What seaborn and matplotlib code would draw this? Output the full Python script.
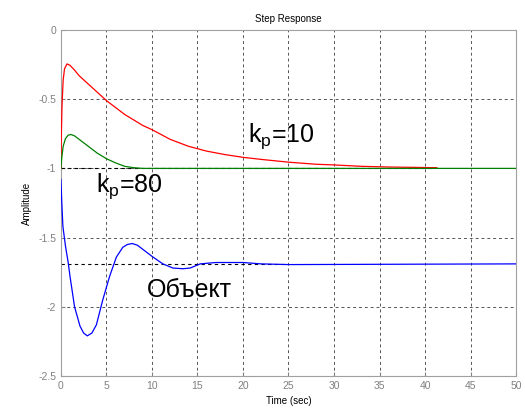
import matplotlib
matplotlib.use("Agg")
import matplotlib.pyplot as plt
import seaborn as sns

# values
t_red = [0, 0.05, 0.12, 0.25, 0.4, 0.67, 1.0, 1.5, 2, 3, 4, 5, 6, 7, 8, 9, 10,
         12, 14, 16, 18, 20, 22, 25, 28, 30, 33, 36, 41.3]
y_red = [-1.0, -0.75, -0.55, -0.36, -0.28, -0.245, -0.255, -0.29, -0.33, -0.39,
         -0.45, -0.51, -0.56, -0.61, -0.65, -0.69, -0.72, -0.79, -0.84, -0.875,
         -0.90, -0.92, -0.935, -0.955, -0.97, -0.975, -0.985, -0.99, -0.995]

t_green = [0, 0.1, 0.25, 0.5, 0.8, 1.1, 1.5, 2, 2.5, 3, 3.5, 4, 5, 6, 7, 8, 9, 50]
y_green = [-1.0, -0.92, -0.84, -0.785, -0.76, -0.755, -0.765, -0.79, -0.815,
           -0.84, -0.865, -0.89, -0.93, -0.96, -0.985, -0.995, -1.0, -1.0]

t_blue = [0, 0.1, 0.22, 0.5, 0.8, 1.0, 1.5, 2.1, 2.5, 2.9, 3.4, 3.9, 4.6, 5.35,
          6.1, 6.8, 7.3, 7.84, 8.4, 9.0, 10.1, 11.2, 12.3, 13.4, 14.2, 15.3,
          17, 20, 22, 25, 50]
y_blue = [-1.08, -1.25, -1.42, -1.56, -1.68, -1.78, -2.0, -2.14, -2.19, -2.21,
          -2.19, -2.13, -1.95, -1.78, -1.64, -1.57, -1.55, -1.543, -1.555,
          -1.585, -1.64, -1.69, -1.72, -1.725, -1.72, -1.69, -1.68, -1.68,
          -1.69, -1.695, -1.69]

ss_levels = [-1.0, -1.69]
ss_ends = [41, 25]

fig = plt.figure(figsize=(5.25, 4.12), dpi=100)
ax = fig.add_axes([0.116, 0.0874, 0.867, 0.8398])

for lvl, end in zip(ss_levels, ss_ends):
    ax.plot([0, end], [lvl, lvl], color="black", ls=(0, (3, 3)), lw=0.8, zorder=2)

sns.lineplot(x=t_red, y=y_red, color="#ff0000", lw=0.9, ax=ax, zorder=3)
sns.lineplot(x=t_green, y=y_green, color="#008000", lw=0.9, ax=ax, zorder=3)
sns.lineplot(x=t_blue, y=y_blue, color="#0000ff", lw=0.9, ax=ax, zorder=3)

ax.set_xlim(0, 50)
ax.set_ylim(-2.5, 0)
ax.set_xticks(range(0, 51, 5))
ax.set_yticks([0, -0.5, -1, -1.5, -2, -2.5])
ax.set_yticklabels(["0", "-0.5", "-1", "-1.5", "-2", "-2.5"])
ax.grid(True, color="#555555", ls=(0, (3, 3)), lw=0.7)
for s in ax.spines.values():
    s.set_color("#a0a0a0")
ax.tick_params(colors="#808080", labelsize=7.5, length=3, direction="in",
               labelcolor="#808080")

ax.set_title("Step Response", fontsize=7, family="Liberation Sans", pad=6)
ax.set_xlabel("Time (sec)", fontsize=7, family="Liberation Sans", labelpad=4)
ax.set_ylabel("Amplitude", fontsize=7, family="Liberation Sans", labelpad=4)
for lab in ax.get_xticklabels() + ax.get_yticklabels():
    lab.set_family("Liberation Sans")

big = dict(fontsize=18, family="Liberation Sans", color="black")
ax.text(20.5, -0.806, r"k$_\mathregular{p}$=10", **big)
ax.text(3.85, -1.17, r"k$_\mathregular{p}$=80", **big)
ax.text(9.45, -1.93, "Объект", **big)

fig.savefig("out.png", dpi=100)
